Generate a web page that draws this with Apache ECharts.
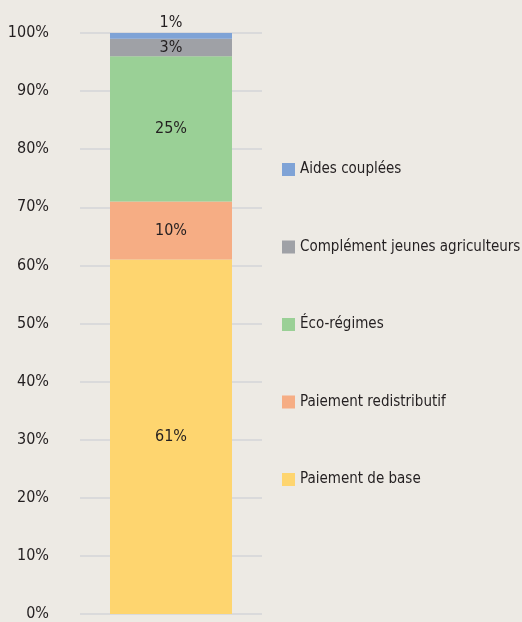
<!DOCTYPE html>
<html>
<head>
<meta charset="utf-8">
<script src="https://cdn.jsdelivr.net/npm/echarts@6/dist/echarts.min.js"></script>
<style>
  html, body { margin: 0; padding: 0; background: #edeae4; }
  #main { width: 522px; height: 622px; }
</style>
</head>
<body>
<div id="main"></div>
<script>
// répartition des paiements directs (part en %)
var categories = ['PAC'];
var seriesNames = ['Paiement de base', 'Paiement redistributif', 'Éco-régimes', 'Complément jeunes agriculteurs', 'Aides couplées'];
var seriesValues = [61, 10, 25, 3, 1];
var seriesColors = ['#fed56f', '#f6ad84', '#9ad096', '#9fa1a6', '#7fa3d6'];
var legendOrder = ['Aides couplées', 'Complément jeunes agriculteurs', 'Éco-régimes', 'Paiement redistributif', 'Paiement de base'];
var yTicks = [0, 10, 20, 30, 40, 50, 60, 70, 80, 90, 100];

var FONT = '"Liberation Sans Narrow", "DejaVu Sans Condensed", sans-serif';
var TXT = '#231f20';

var dom = document.getElementById('main');
var myChart = echarts.init(dom);

var series = seriesNames.map(function (name, i) {
    var last = i === seriesNames.length - 1;
    return {
        name: name,
        type: 'bar',
        stack: 'total',
        barWidth: 122,
        itemStyle: { color: seriesColors[i] },
        label: {
            show: true,
            position: last ? 'top' : 'inside',
            distance: 2,
            formatter: '{c}%',
            color: TXT,
            fontFamily: FONT,
            fontSize: 16
        },
        data: [seriesValues[i]]
    };
});

var option = {
    backgroundColor: '#edeae4',
    animation: false,
    grid: {
        left: 80,
        right: 260,
        top: 33,
        bottom: 5
    },
    legend: {
        orient: 'vertical',
        left: 277,
        top: 157,
        itemWidth: 13,
        itemHeight: 13,
        itemGap: 62.5,
        icon: 'rect',
        data: legendOrder,
        textStyle: {
            color: TXT,
            fontFamily: FONT,
            fontSize: 15
        }
    },
    xAxis: {
        type: 'category',
        data: categories,
        axisLine: { show: false },
        axisTick: { show: false },
        axisLabel: { show: false }
    },
    yAxis: {
        type: 'value',
        min: yTicks[0],
        max: yTicks[yTicks.length - 1],
        interval: 10,
        axisLine: { show: false },
        axisTick: { show: false },
        axisLabel: {
            margin: 31,
            color: TXT,
            fontFamily: FONT,
            fontSize: 16,
            formatter: '{value}%'
        },
        splitLine: {
            lineStyle: { color: '#d3d4d8', width: 1.5 }
        }
    },
    series: series
};

myChart.setOption(option);
window.addEventListener('resize', function () {
    myChart.resize();
});
</script>
</body>
</html>
